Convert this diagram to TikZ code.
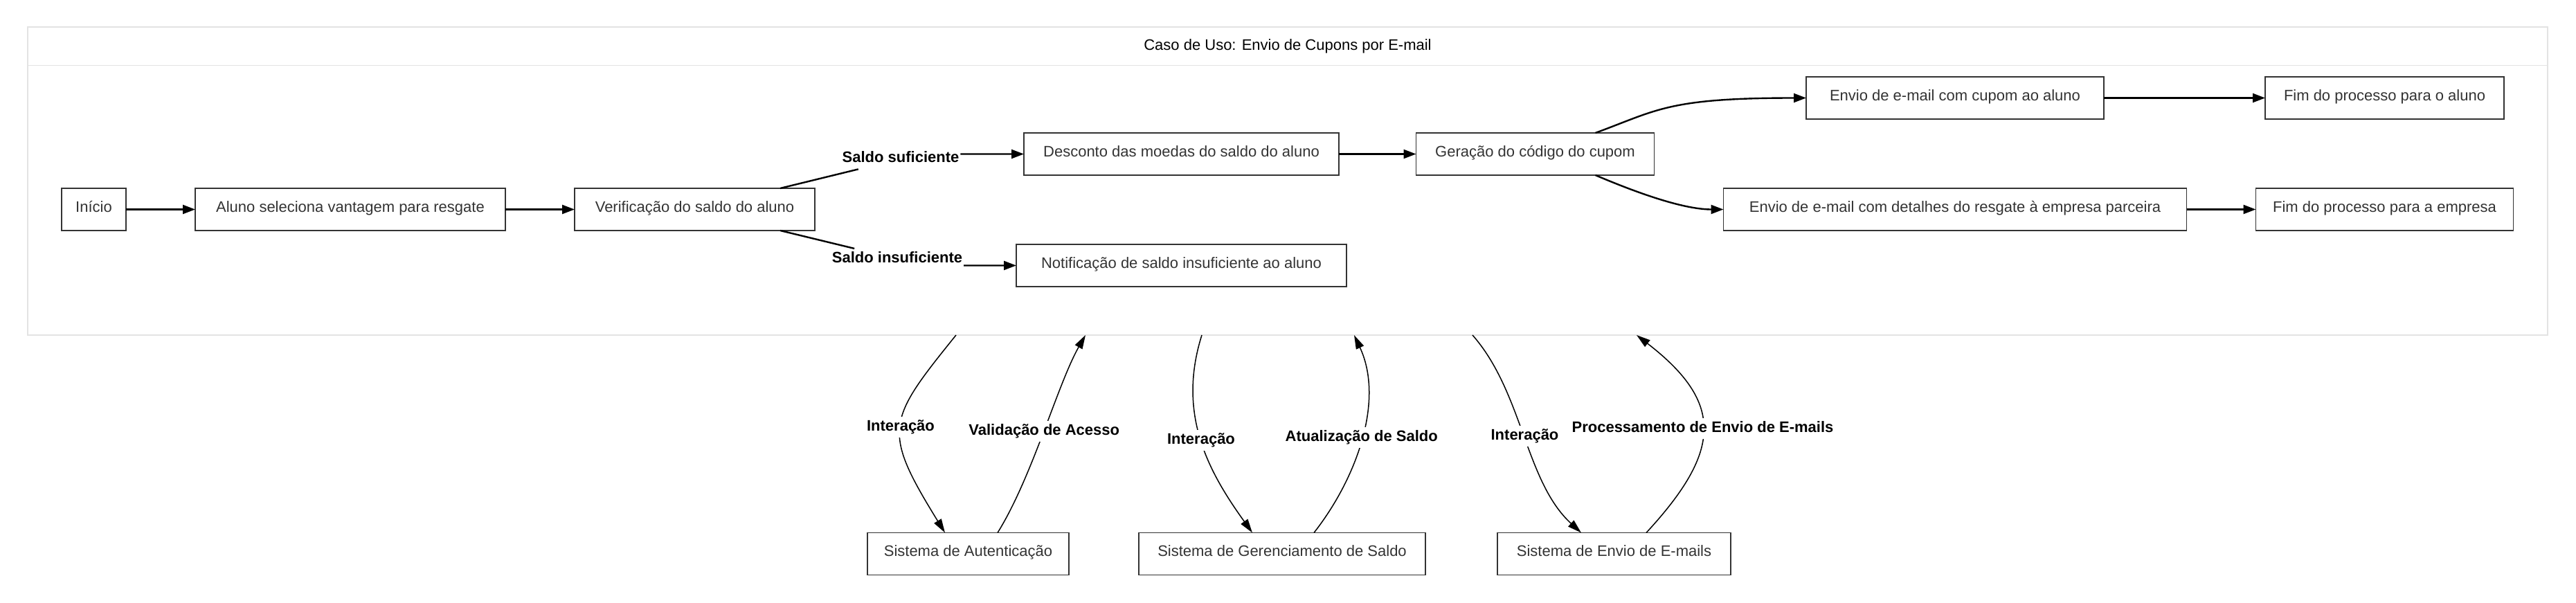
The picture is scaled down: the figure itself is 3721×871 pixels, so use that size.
\documentclass[tikz,border=0pt]{standalone}
\usepackage{fontspec}
\setmainfont{Liberation Sans}
\usepackage{tikz}
\usetikzlibrary{arrows.meta, positioning, calc}
\definecolor{colorBox}{HTML}{333333}
\definecolor{colorFrame}{HTML}{E3E3E3}
\colorlet{colorFlow}{black}
\tikzset{
  box/.style={draw=colorBox, line width=0.85pt, fill=white, text=colorBox, minimum height=30.5pt, inner xsep=2pt, outer sep=0pt, text height=6.6pt, text depth=2.75pt, font=\fontsize{11}{13}\selectfont},
  lbl/.style={fill=white, inner xsep=1pt, inner ysep=2pt, outer sep=0pt, text height=8.25pt, text depth=2.75pt, font=\fontsize{11}{13}\selectfont\bfseries},
  flow/.style={-{Triangle[length=9pt,width=6.5pt]}, line width=1.2pt, colorFlow},
  link/.style={-{Triangle[length=10pt,width=6pt]}, line width=0.75pt, colorFlow},
  ucFrame/.style={draw=colorFrame, line width=0.65pt, fill=white, outer sep=0pt},
  ucTitle/.style={minimum height=27.5pt, inner sep=0pt, font=\fontsize{11}{13}\selectfont}
}

\begin{document}
\begin{tikzpicture}[x=0.5pt, y=-0.5pt, node distance=50pt]
\path[use as bounding box, fill=white] (0,0) rectangle (3721,871);
\node[ucFrame, minimum width=1820pt, minimum height=222.5pt] (uc) at (1860,261.5) {};
\node[ucTitle, below=0pt of uc.north] (ucT) {Caso de Uso: Envio de Cupons por E-mail};
\draw[colorFrame, line width=0.65pt] (ucT.south -| uc.west) -- (ucT.south -| uc.east);

\node[box, minimum width=46.5pt] (ini) at (135.5,302.5) {Início};
\node[box, minimum width=224pt, right=of ini] (sel) {Aluno seleciona vantagem para resgate};
\node[box, minimum width=173.5pt, right=of sel] (ver) {Verificação do saldo do aluno};
\node[box, minimum width=227.5pt, above right=9.5pt and 151pt of ver] (desc) {Desconto das moedas do saldo do aluno};
\node[box, minimum width=238.5pt, below=of desc] (notif) {Notificação de saldo insuficiente ao aluno};
\node[box, minimum width=172pt, right=55.75pt of desc] (gen) {Geração do código do cupom};
\node[box, minimum width=334.5pt, below right=9.5pt and 50pt of gen] (envB) {Envio de e-mail com detalhes do resgate à empresa parceira};
\node[box, minimum width=215pt, above=of envB] (envA) {Envio de e-mail com cupom ao aluno};
\node[box, minimum width=186pt, right=of envB] (fimB) {Fim do processo para a empresa};
\node[box, minimum width=172.5pt, above=of fimB] (fimA) {Fim do processo para o aluno};

\node[box, minimum width=145.5pt] (aut) at (1398.5,800) {Sistema de Autenticação};
\node[box, minimum width=207pt, right=50.5pt of aut] (ger) {Sistema de Gerenciamento de Saldo};
\node[box, minimum width=168.5pt, right=52pt of ger] (env) {Sistema de Envio de E-mails};

\node[lbl] (sufLbl) at (1301,229.4) {Saldo suficiente};
\node[lbl] (insLbl) at (1296,374) {Saldo insuficiente};

\draw [flow] (ini) -- (sel);
\draw [flow] (sel) -- (ver);
\draw [flow] ([xshift=-25pt]ver.north east) -- (sufLbl) (sufLbl.east |- desc) -- (desc);
\draw [flow] ([xshift=-25pt]ver.south east) -- (insLbl) (insLbl.east |- notif) -- (notif);
\draw [flow] (desc) -- (gen);
\draw [flow] ([xshift=-42.5pt]gen.north east) .. controls +(90,-33) and +(-200,0) .. (envA.west);
\draw [flow] ([xshift=-42.5pt]gen.south east) .. controls +(80,34) and +(-50,0) .. (envB.west);
\draw [flow] (envA) -- (fimA);
\draw [flow] (envB) -- (fimB);

\draw [link] ($(uc.south -| aut)+(-17.5,0)$) .. controls +(-100,124) and +(-92,-149) .. ($(aut.north)+(-33.5,0)$) node [lbl, midway] {Interação};
\draw [link] ($(aut.north)+(42.5,0)$) .. controls +(50,-80) and +(-40,70) .. ($(uc.south -| aut)+(169.5,0)$) node [lbl, midway] {Validação de Acesso};
\draw [link] ($(uc.south -| ger)+(-116,0)$) .. controls +(-36,114) and +(-64,-89) .. ($(ger.north)+(-43,0)$) node [lbl, midway] {Interação};
\draw [link] ($(ger.north)+(46,0)$) .. controls +(62,-79) and +(44,94) .. ($(uc.south -| ger)+(104,0)$) node [lbl, midway] {Atualização de Saldo};
\draw [link] ($(uc.south -| env)+(-204.5,0)$) .. controls +(73,83) and +(-81,-74) .. ($(env.north)+(-47.5,0)$) node [lbl, midway] {Interação};
\draw [link] ($(env.north)+(46.5,0)$) .. controls +(109,-118) and +(127,98) .. ($(uc.south -| env)+(32.5,0)$) node [lbl, midway] {Processamento de Envio de E-mails};
\end{tikzpicture}
\end{document}
